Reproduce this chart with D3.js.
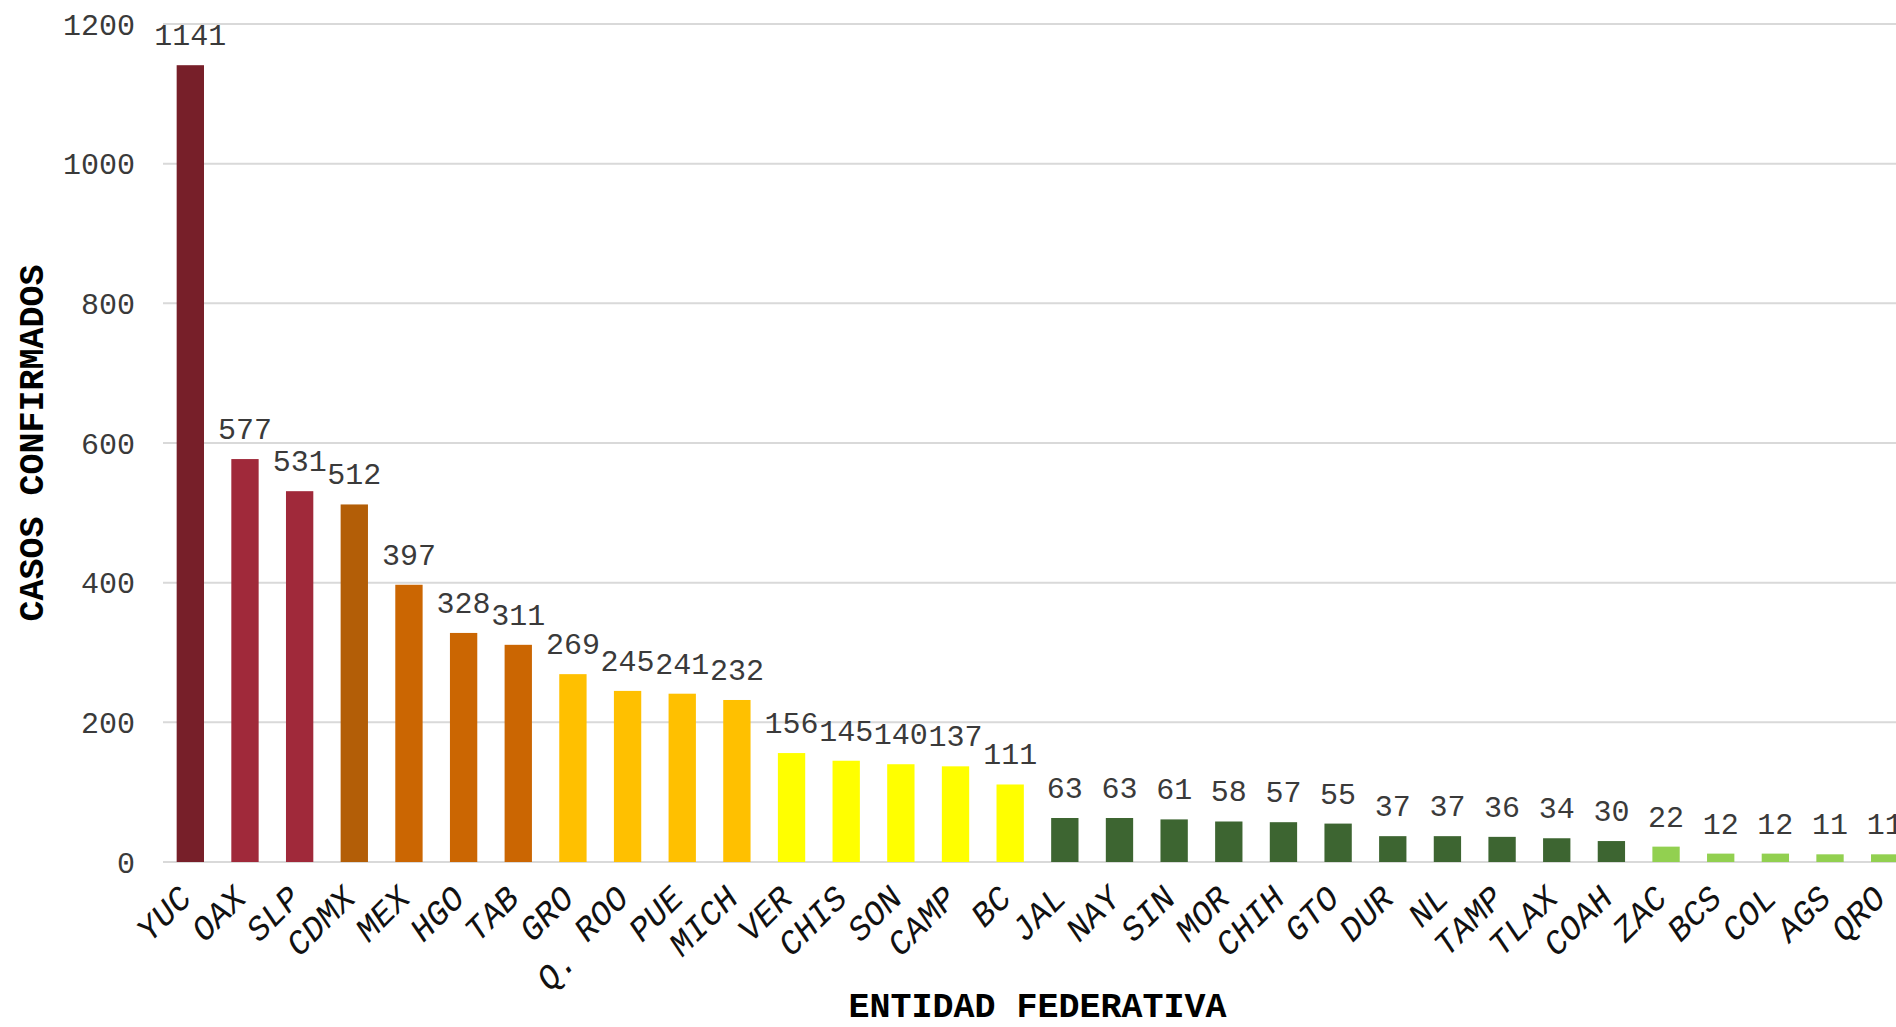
<!DOCTYPE html>
<html>
<head>
<meta charset="utf-8">
<script src="https://cdn.jsdelivr.net/npm/d3@7"></script>
<style>
  html, body { margin: 0; padding: 0; background: #fff; overflow: hidden; }
  svg { display: block; font-family: 'Courier New', 'Liberation Mono', monospace; }
</style>
</head>
<body>
<svg id="chart" width="1896" height="1027"></svg>
<script>
// Entidades federativas (ordenadas de mayor a menor)
const estados = ['YUC', 'OAX', 'SLP', 'CDMX', 'MEX', 'HGO', 'TAB', 'GRO', 'Q. ROO', 'PUE',
    'MICH', 'VER', 'CHIS', 'SON', 'CAMP', 'BC', 'JAL', 'NAY', 'SIN', 'MOR', 'CHIH', 'GTO',
    'DUR', 'NL', 'TAMP', 'TLAX', 'COAH', 'ZAC', 'BCS', 'COL', 'AGS', 'QRO'];
const casos = [1141, 577, 531, 512, 397, 328, 311, 269, 245, 241,
    232, 156, 145, 140, 137, 111, 63, 63, 61, 58, 57, 55,
    37, 37, 36, 34, 30, 22, 12, 12, 11, 11];
// grupo de color de cada entidad
const grupos = [0, 1, 1, 2, 3, 3, 3, 4, 4, 4,
    4, 5, 5, 5, 5, 5, 6, 6, 6, 6, 6, 6,
    6, 6, 6, 6, 6, 7, 7, 7, 7, 7];
const yTicks = [0, 200, 400, 600, 800, 1000, 1200];

const data = estados.map((e, i) => ({ estado: e, valor: casos[i], grupo: grupos[i] }));

const svg = d3.select('#chart');
const margin = { top: 24, left: 163, bottom: 862 };
const plotRight = 1912; // el area de la grafica se sale del recorte

const x = d3.scaleBand()
    .domain(estados)
    .range([margin.left, plotRight])
    .paddingInner(0.5)
    .paddingOuter(0.25);

const y = d3.scaleLinear()
    .domain([0, 1200])
    .range([margin.bottom, margin.top]);

const color = d3.scaleOrdinal()
    .domain([0, 1, 2, 3, 4, 5, 6, 7])
    .range(['#771f29', '#a0293a', '#b35e07', '#cb6602', '#ffc000', '#ffff00', '#3d6531', '#92d050']);

// lineas de cuadricula
svg.append('g')
    .selectAll('line')
    .data(yTicks)
    .join('line')
    .attr('x1', margin.left)
    .attr('x2', plotRight)
    .attr('y1', d => y(d))
    .attr('y2', d => y(d))
    .attr('stroke', '#d9d9d9')
    .attr('stroke-width', 2);

// etiquetas del eje Y
svg.append('g')
    .selectAll('text')
    .data(yTicks)
    .join('text')
    .attr('x', 135)
    .attr('y', d => y(d))
    .attr('dy', '0.35em')
    .attr('text-anchor', 'end')
    .attr('font-size', 30)
    .attr('fill', '#3a3a3a')
    .text(d => d);

// barras
svg.append('g')
    .selectAll('rect')
    .data(data)
    .join('rect')
    .attr('x', d => x(d.estado))
    .attr('width', x.bandwidth())
    .attr('y', d => y(d.valor))
    .attr('height', d => y(0) - y(d.valor))
    .attr('fill', d => color(d.grupo));

// etiquetas de valor
svg.append('g')
    .selectAll('text')
    .data(data)
    .join('text')
    .attr('x', d => x(d.estado) + x.bandwidth() / 2)
    .attr('y', d => y(d.valor) - 20)
    .attr('text-anchor', 'middle')
    .attr('font-size', 30)
    .attr('fill', '#3a3a3a')
    .text(d => d.valor);

// etiquetas de categoria (giradas)
const catLabels = svg.append('g')
    .selectAll('text')
    .data(data)
    .join('text')
    .attr('transform', d => `translate(${x(d.estado) + x.bandwidth() / 2 + 3},${margin.bottom + 38}) rotate(-45)`)
    .attr('text-anchor', 'end')
    .attr('font-size', 34)
    .attr('font-style', 'italic')
    .attr('fill', '#111');

catLabels.each(function (d) {
    const t = d3.select(this);
    const parts = d.estado.split(' ');
    if (parts.length > 1) {
        t.append('tspan').attr('dy', 8).text(parts[0]);
        t.append('tspan').attr('dy', -8).text(' ' + parts.slice(1).join(' '));
    } else {
        t.text(d.estado);
    }
});

// titulos de ejes
svg.append('text')
    .attr('transform', `translate(43,${(margin.top + margin.bottom) / 2}) rotate(-90)`)
    .attr('text-anchor', 'middle')
    .attr('font-size', 35)
    .attr('font-weight', 'bold')
    .attr('fill', '#000')
    .text('CASOS CONFIRMADOS');

svg.append('text')
    .attr('x', (margin.left + plotRight) / 2)
    .attr('y', 1017)
    .attr('text-anchor', 'middle')
    .attr('font-size', 35)
    .attr('font-weight', 'bold')
    .attr('fill', '#000')
    .text('ENTIDAD FEDERATIVA');
</script>
</body>
</html>
